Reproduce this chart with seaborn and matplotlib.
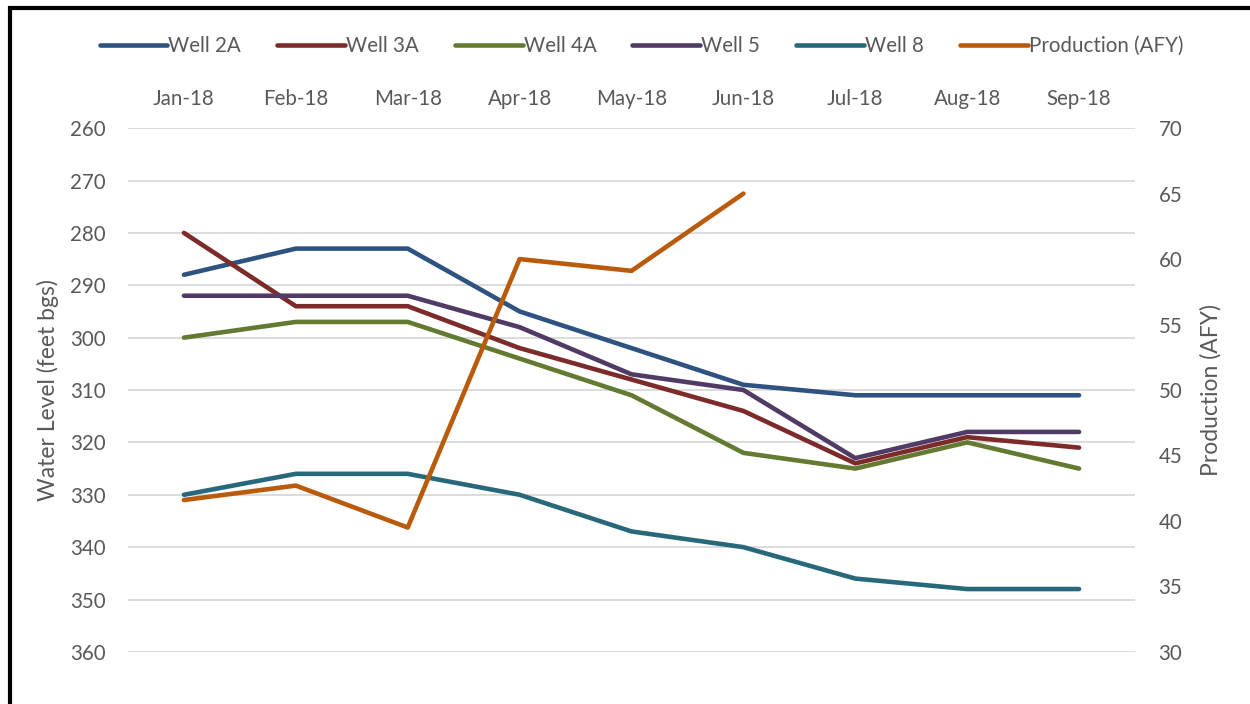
import matplotlib.pyplot as plt
import matplotlib.patches as mpatches
import seaborn as sns
import pandas as pd
import numpy as np

# Chart data
months = ['Jan-18', 'Feb-18', 'Mar-18', 'Apr-18', 'May-18', 'Jun-18', 'Jul-18', 'Aug-18', 'Sep-18']
well_2a = [288, 283, 283, 295, 302, 309, 311, 311, 311]
well_3a = [280, 294, 294, 302, 308, 314, 324, 319, 321]
well_4a = [300, 297, 297, 304, 311, 322, 325, 320, 325]
well_5 = [292, 292, 292, 298, 307, 310, 323, 318, 318]
well_8 = [330, 326, 326, 330, 337, 340, 346, 348, 348]
production = [41.6, 42.7, 39.5, 60.0, 59.1, 65.0]

wells = {'Well 2A': well_2a, 'Well 3A': well_3a, 'Well 4A': well_4a,
         'Well 5': well_5, 'Well 8': well_8}
colors = {'Well 2A': '#2E5380', 'Well 3A': '#7C2B2A', 'Well 4A': '#637A31',
          'Well 5': '#4F3B65', 'Well 8': '#27697A', 'Production (AFY)': '#BA5B0C'}

sns.set_theme(style='white')
plt.rcParams['font.family'] = ['Lato', 'DejaVu Sans']
text_color = '#595959'
fs = 14.8

df = pd.DataFrame([(m, name, v) for name, vals in wells.items() for m, v in zip(months, vals)],
                  columns=['Month', 'Well', 'Level'])
prod_df = pd.DataFrame({'Month': months[:len(production)], 'Production': production})

fig = plt.figure(figsize=(12.5, 7.04), dpi=100)
ax = fig.add_axes([0.1024, 0.074, 0.8056, 0.744])
ax2 = ax.twinx()

sns.lineplot(data=df, x='Month', y='Level', hue='Well', palette=colors, sort=False,
             lw=3.3, ax=ax, legend=False, solid_capstyle='round')
sns.lineplot(data=prod_df, x='Month', y='Production', color=colors['Production (AFY)'],
             sort=False, lw=3.3, ax=ax2, legend=False, solid_capstyle='round')

ax.set_xlim(-0.5, len(months) - 0.5)
ax.set_ylim(360, 260)
ax.set_yticks(np.arange(260, 361, 10))
ax2.set_ylim(30, 70)
ax2.set_yticks(np.arange(30, 71, 5))

ax.xaxis.tick_top()
ax.tick_params(axis='x', length=0, pad=14, labelsize=fs, labelcolor=text_color)
ax.tick_params(axis='y', length=0, pad=16, labelsize=fs, labelcolor=text_color)
ax2.tick_params(axis='y', length=0, pad=17, labelsize=fs, labelcolor=text_color)
ax.set_xlabel('')
ax.set_ylabel('Water Level (feet bgs)', fontsize=16.5, color=text_color, labelpad=8)
ax2.set_ylabel('Production (AFY)', fontsize=16.5, color=text_color, labelpad=13)

ax.grid(axis='y', color='#D9D9D9', lw=1.3)
ax.set_axisbelow(True)
for a in (ax, ax2):
    for s in a.spines.values():
        s.set_visible(False)

handles = [plt.Line2D([], [], color=colors[k], lw=3.3, solid_capstyle='round') for k in colors]
fig.legend(handles, list(colors.keys()), loc='center', bbox_to_anchor=(0.513, 0.935), ncol=6,
           frameon=False, fontsize=fs, handlelength=3.3, handletextpad=0.05,
           columnspacing=1.75, labelcolor=text_color)

# outer chart border
fig.patches.append(mpatches.Rectangle((0.008, -0.1), 1.1, 1.089, transform=fig.transFigure,
                                      fill=False, edgecolor='black', lw=3))

fig.savefig('out.png', dpi=100)
